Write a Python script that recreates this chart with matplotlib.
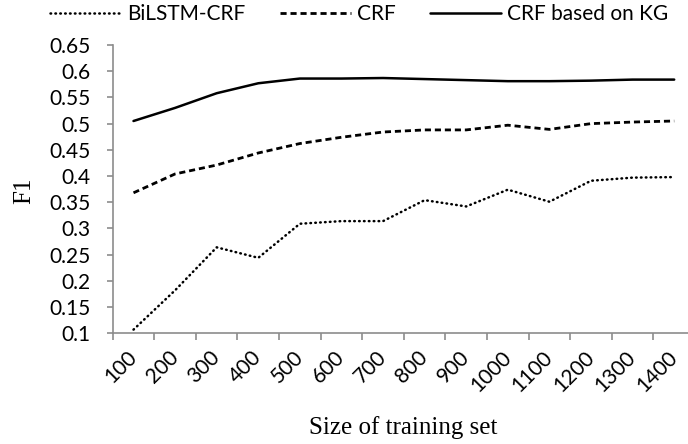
import matplotlib
matplotlib.use("Agg")
import matplotlib.pyplot as plt

categories = ["100", "200", "300", "400", "500", "600", "700", "800", "900",
              "1000", "1100", "1200", "1300", "1400"]
bilstm_crf = [0.107, 0.182, 0.264, 0.244, 0.309, 0.314, 0.314, 0.354, 0.342,
              0.374, 0.351, 0.391, 0.397, 0.398]
crf = [0.368, 0.404, 0.421, 0.444, 0.462, 0.474, 0.484, 0.488, 0.488,
       0.497, 0.489, 0.500, 0.503, 0.505]
crf_kg = [0.505, 0.530, 0.558, 0.577, 0.586, 0.586, 0.587, 0.585, 0.583,
          0.581, 0.581, 0.582, 0.584, 0.584]
ytick_vals = [0.1, 0.15, 0.2, 0.25, 0.3, 0.35, 0.4, 0.45, 0.5, 0.55, 0.6, 0.65]
ytick_labels = ["0.1", "0.15", "0.2", "0.25", "0.3", "0.35", "0.4", "0.45",
                "0.5", "0.55", "0.6", "0.65"]

SANS = ["Lato", "DejaVu Sans"]
SERIF = ["Liberation Serif", "DejaVu Serif"]
GRAY = "#8c8c8c"
FS = 15

fig = plt.figure(figsize=(6.88, 4.44), dpi=100)
ax = fig.add_axes([112.7 / 688, 110.7 / 444, (695 - 112.7) / 688, (333.3 - 45) / 444])

x = list(range(len(categories)))
l1, = ax.plot(x, bilstm_crf, color="black", lw=1.8, linestyle=(0, (0.25, 1.7)),
              dash_capstyle="round", solid_capstyle="round")
l2, = ax.plot(x, crf, color="black", lw=2.0, linestyle=(0, (2.2, 1.4)))
l3, = ax.plot(x, crf_kg, color="black", lw=1.8, solid_capstyle="round")

ax.set_xlim(-0.5, len(categories) - 0.5)
ax.set_ylim(0.1, 0.65)

for s in ["top", "right"]:
    ax.spines[s].set_visible(False)
for s in ["left", "bottom"]:
    ax.spines[s].set_color(GRAY)
    ax.spines[s].set_linewidth(1.2)

ax.set_yticks(ytick_vals)
ax.set_yticklabels(ytick_labels, fontfamily=SANS, fontsize=FS)
ax.tick_params(axis="y", direction="out", length=4, width=1.2, color=GRAY, pad=12)

ax.set_xticks(x)
ax.set_xticklabels(categories, fontfamily=SANS, fontsize=FS, rotation=45,
                   ha="right", va="center", rotation_mode="anchor")
ax.tick_params(axis="x", which="major", length=0, pad=15)
ax.set_xticks([i - 0.5 for i in range(len(categories) + 1)], minor=True)
ax.tick_params(axis="x", which="minor", direction="out", length=5, width=1.2, color=GRAY)

fig.text(24 / 688, 1 - 191 / 444, "F1", rotation=90, ha="center", va="center",
         fontfamily=SERIF, fontsize=18)
fig.text(403 / 688, 1 - 428 / 444, "Size of training set", ha="center", va="center",
         fontfamily=SERIF, fontsize=18)

leg = fig.legend([l1, l2, l3], ["BiLSTM-CRF", "CRF", "CRF based on KG"],
                 loc="center left", bbox_to_anchor=(50 / 688, 1 - 14 / 444),
                 ncol=3, frameon=False, borderpad=0, borderaxespad=0,
                 handlelength=3.4, handletextpad=0.3, columnspacing=1.65,
                 prop={"family": SANS, "size": FS})

fig.savefig("out.png", dpi=100)
